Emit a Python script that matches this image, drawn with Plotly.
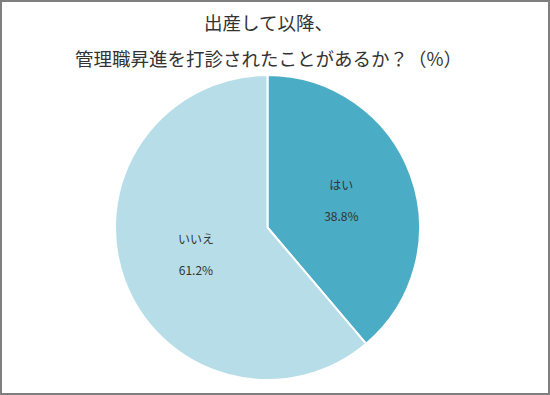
import plotly.graph_objects as go

labels = ["はい", "いいえ"]
values = [38.8, 61.2]
colors = ["#4BACC6", "#B7DEE8"]
title_lines = ["出産して以降、", "管理職昇進を打診されたことがあるか？（%）"]

W, H = 550, 395
font_family = "Noto Sans CJK JP, Noto Sans, sans-serif"

fig = go.Figure()
fig.add_trace(go.Pie(
    labels=labels,
    values=values,
    sort=False,
    direction="clockwise",
    rotation=0,
    marker=dict(colors=colors, line=dict(color="white", width=2)),
    texttemplate="%{label}<br><br>%{value:.1f}%",
    textposition="inside",
    insidetextorientation="horizontal",
    textfont=dict(family=font_family, size=12, color="#333333"),
    hoverinfo="label+value",
    showlegend=False,
    domain=dict(x=[115 / W, 420 / W], y=[15 / H, 320 / H]),
))

fig.add_annotation(
    text=title_lines[0], x=268 / W, y=1 - 22 / H, xref="paper", yref="paper",
    showarrow=False, font=dict(family=font_family, size=18.5, color="#333333"),
    xanchor="center", yanchor="middle",
)
fig.add_annotation(
    text=title_lines[1], x=268 / W, y=1 - 58 / H, xref="paper", yref="paper",
    showarrow=False, font=dict(family=font_family, size=18.5, color="#333333"),
    xanchor="center", yanchor="middle",
)

fig.add_shape(type="rect", xref="paper", yref="paper", x0=0, y0=0, x1=1, y1=1,
              line=dict(color="#7f7f7f", width=4), fillcolor="rgba(0,0,0,0)")

fig.update_layout(
    width=W, height=H,
    margin=dict(l=0, r=0, t=0, b=0),
    paper_bgcolor="white",
    plot_bgcolor="white",
)

fig.write_html("out.html", config={"displayModeBar": False},
               post_script="document.body.style.margin='0';")
